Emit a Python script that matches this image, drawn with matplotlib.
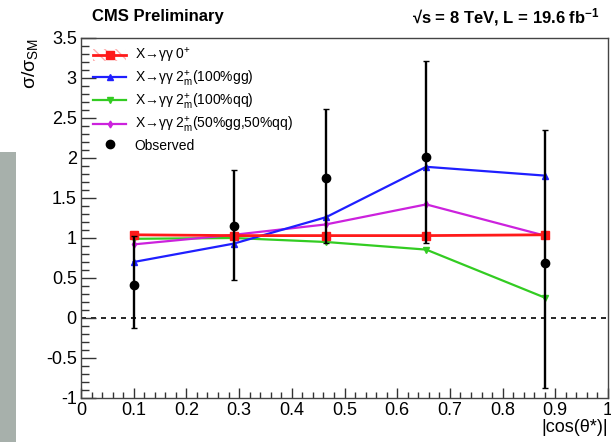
import matplotlib
matplotlib.use('Agg')
import matplotlib.pyplot as plt
from matplotlib.lines import Line2D
from matplotlib.patches import Patch, Rectangle
from matplotlib.ticker import MultipleLocator, FormatStrFormatter

plt.rcParams['font.family'] = ['Liberation Sans', 'DejaVu Sans']
plt.rcParams['mathtext.fontset'] = 'custom'
plt.rcParams['mathtext.rm'] = 'Liberation Sans'
plt.rcParams['mathtext.it'] = 'Liberation Sans'
plt.rcParams['mathtext.bf'] = 'Liberation Sans:bold'
plt.rcParams['hatch.linewidth'] = 1.0

# bin centres in |cos(theta*)|
cos_theta = [0.1, 0.29, 0.465, 0.655, 0.88]

# expected sigma/sigma_SM for each spin hypothesis
spin0 = [1.04, 1.03, 1.03, 1.03, 1.04]
spin2_gg = [0.70, 0.93, 1.26, 1.89, 1.78]
spin2_qq = [0.99, 1.00, 0.95, 0.855, 0.255]
spin2_mix = [0.92, 1.04, 1.17, 1.42, 1.03]

# observed values with asymmetric errors
observed = [0.415, 1.145, 1.75, 2.01, 0.69]
obs_low = [-0.13, 0.48, 0.935, 0.935, -0.88]
obs_high = [1.02, 1.845, 2.61, 3.21, 2.35]

legend_labels = [
    'X→γγ 0$^{+}$',
    'X→γγ 2$^{+}_{m}$(100%gg)',
    'X→γγ 2$^{+}_{m}$(100%qq)',
    'X→γγ 2$^{+}_{m}$(50%gg,50%qq)',
    'Observed',
]

fig = plt.figure(figsize=(6.11, 4.42), dpi=100)
ax = fig.add_axes([81 / 611, 1 - 398 / 442, 527 / 611, 360 / 442])

# grey strip on the left edge
fig.patches.append(Rectangle((0, 0), 16 / 611, 1 - 152 / 442, transform=fig.transFigure,
                             facecolor='#a7b0ab', edgecolor='none'))

ax.axhline(0, color='black', linestyle=(0, (3, 3)), linewidth=1.2, zorder=1)

red, blue, green, magenta = '#ff1a1a', '#1f1fff', '#33cc22', '#cc22dd'
ax.plot(cos_theta, spin2_qq, color=green, marker='v', markersize=5, linewidth=1.6, zorder=3)
ax.plot(cos_theta, spin2_mix, color=magenta, marker='d', markersize=3.5, linewidth=1.6, zorder=3)
ax.plot(cos_theta, spin2_gg, color=blue, marker='^', markersize=5, linewidth=1.6, zorder=3)
ax.plot(cos_theta, spin0, color=red, marker='s', markersize=5.5, linewidth=2, zorder=4)

yerr = [[o - lo for o, lo in zip(observed, obs_low)],
        [hi - o for o, hi in zip(observed, obs_high)]]
ax.errorbar(cos_theta, observed, yerr=yerr, fmt='o', color='black', markersize=6,
            elinewidth=1.7, capsize=2.5, capthick=1, zorder=5)

ax.set_xlim(0, 1)
ax.set_ylim(-1, 3.5)
ax.xaxis.set_major_locator(MultipleLocator(0.1))
ax.xaxis.set_minor_locator(MultipleLocator(0.02))
ax.yaxis.set_major_locator(MultipleLocator(0.5))
ax.yaxis.set_minor_locator(MultipleLocator(0.1))
ax.xaxis.set_major_formatter(FormatStrFormatter('%g'))
ax.yaxis.set_major_formatter(FormatStrFormatter('%g'))
ax.tick_params(axis='both', which='both', direction='in', labelsize=13, color='#333333')
ax.tick_params(axis='y', which='major', length=11, width=1, pad=3)
ax.tick_params(axis='y', which='minor', length=5.5, width=1)
ax.tick_params(axis='x', which='major', length=7.5, width=1, pad=3)
ax.tick_params(axis='x', which='minor', length=4, width=1)
for side in ax.spines:
    ax.spines[side].set_linewidth(1)
    ax.spines[side].set_color('#444444')

# legend handles
h0 = (Patch(facecolor='none', edgecolor='#ffb0b0', hatch='\\\\\\', linewidth=0),
      Line2D([], [], color=red, marker='s', markersize=5.5, linewidth=2))
h1 = Line2D([], [], color=blue, marker='^', markersize=5, linewidth=1.6)
h2 = Line2D([], [], color=green, marker='v', markersize=5, linewidth=1.6)
h3 = Line2D([], [], color=magenta, marker='d', markersize=3.5, linewidth=1.6)
h4 = Line2D([], [], color='black', marker='o', markersize=6, linewidth=0)
ax.legend([h0, h1, h2, h3, h4], legend_labels, loc='upper left', bbox_to_anchor=(0.012, 0.992),
          frameon=False, fontsize=10, handlelength=2.4, handleheight=1.0, handletextpad=0.6,
          labelspacing=0.24, borderaxespad=0.2, borderpad=0.2)

fig.text(92 / 611, 1 - 17 / 442, 'CMS Preliminary', fontsize=12, fontweight='bold',
         ha='left', va='center')
fig.text(600 / 611, 1 - 17 / 442, r'√s = 8 TeV, L = 19.6 fb$^{\mathbf{-1}}$', fontsize=12,
         fontweight='bold', ha='right', va='center')
fig.text(30 / 611, 1 - 38 / 442, 'σ/σ$_{\\mathrm{SM}}$', fontsize=14, rotation=90,
         ha='center', va='top')
fig.text(608 / 611, 1 - 428 / 442, '|cos(θ*)|', fontsize=13, ha='right', va='center')

fig.savefig('out.png', dpi=100)
